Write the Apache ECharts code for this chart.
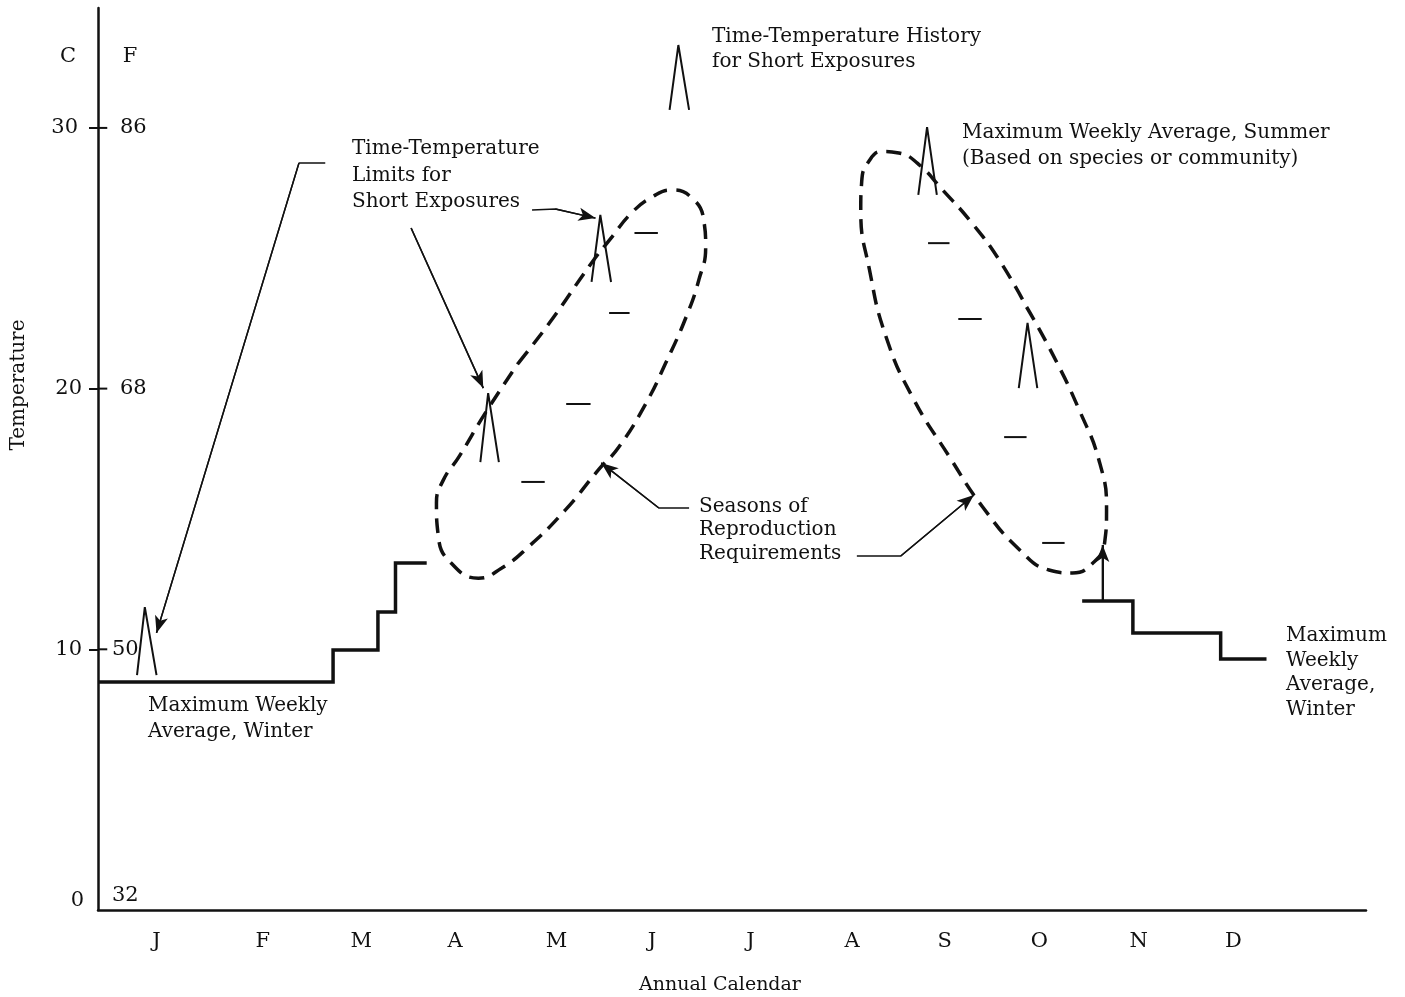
<!DOCTYPE html>
<html><head><meta charset="utf-8">
<script src="https://cdn.jsdelivr.net/npm/echarts@6/dist/echarts.min.js"></script>
<style>html,body{margin:0;padding:0;background:#fff}#c{width:1405px;height:997px}</style>
</head><body><div id="c"></div>
<script>
// ---- axis labels ----
const monthLabels = ['J','F','M','A','M','J','J','A','S','O','N','D'];
const monthPositions = [0.60,1.69,2.70,3.66,4.70,5.68,6.69,7.73,8.68,9.65,10.67,11.64];
const celsiusLabels = ['0','10','20','30'];
const celsiusLabelPositions = [0.38,10,20,30];
const fahrenheitLabels = ['32','50','68','86'];
const fahrenheitLabelPositions = [0.54,10,20,30];
const tickValues = [10,20,30];

// ---- winter maximum weekly average steps (month, degC) ----
const winterStepsEarly = [[0,8.75],[2.41,9.97],[2.87,11.43],[3.05,13.31],[3.37,13.31]];
const winterStepsLate = [[10.09,11.85],[10.61,10.63],[11.51,9.63],[11.98,9.63]];

// ---- seasons of reproduction (dashed loops) ----
const springLoop = [[4.31,20.98],[4.65,22.63],[5.06,24.82],[5.27,25.82],[5.47,26.74],[5.68,27.35],[5.88,27.62],[6.09,27.31],[6.21,26.47],[6.23,25.43],[6.16,24.17],[6.03,22.75],[5.82,20.98],[5.62,19.45],[5.34,17.76],[5.13,16.88],[4.79,15.34],[4.41,13.92],[4.14,13.12],[3.90,12.73],[3.62,13.31],[3.49,14.31],[3.47,15.61],[3.54,16.49],[3.70,17.38],[3.97,19.06],[4.31,20.98]];
const fallLoop = [[9.52,23.13],[9.78,21.37],[10.06,19.18],[10.27,17.15],[10.34,15.34],[10.32,14.08],[10.20,13.31],[9.99,12.93],[9.75,13.04],[9.45,13.81],[9.07,15.46],[8.73,17.38],[8.35,19.68],[8.08,21.98],[7.91,24.55],[7.82,26.85],[7.83,27.95],[7.90,28.70],[8.04,29.10],[8.21,29.04],[8.40,28.65],[8.66,27.62],[8.96,26.35],[9.24,24.93],[9.52,23.13]];

// ---- short exposure peaks: [left foot, apex, right foot] ----
const shortPeaks = [
  [[0.40,9.01],[0.48,11.62],[0.60,9.01]],
  [[3.92,17.18],[4.00,19.83],[4.11,17.18]],
  [[5.06,24.09],[5.15,26.66],[5.26,24.09]],
  [[5.86,30.69],[5.95,33.18],[6.06,30.69]],
  [[8.41,27.43],[8.50,30.03],[8.60,27.43]],
  [[9.44,20.02],[9.53,22.52],[9.63,20.02]]
];

// ---- weekly averages (short dashes): [x start, x end, degC] ----
const weeklyAverages = [
  [4.34,4.58,16.42],[4.80,5.05,19.41],[5.24,5.45,22.90],[5.50,5.74,25.97],
  [8.51,8.73,25.58],[8.82,9.06,22.67],[9.29,9.52,18.14],[9.68,9.91,14.08]
];

// ---- leader lines (last segment carries arrow) ----
const leaderLines = [
  [[2.33,28.65],[2.06,28.65],[0.60,10.63]],
  [[4.45,26.85],[4.69,26.89],[5.10,26.54]],
  [[3.21,26.16],[3.95,20.02]],
  [[6.06,15.42],[5.75,15.42],[5.16,17.15]],
  [[7.78,13.58],[8.23,13.58],[8.98,15.92]]
];
const upArrow = [[10.30,11.89],[10.30,14.00]];

const black = '#111';
const serif = 'DejaVu Serif';
const series = [];
function addLine(data, extra) {
  series.push(Object.assign({
    type: 'line', data: data, symbol: 'none', silent: true, animation: false,
    lineStyle: { color: black, width: 2 }, z: 3
  }, extra || {}));
}
addLine(winterStepsEarly, { step: 'end', lineStyle: { color: black, width: 3.5, join: 'miter' } });
addLine(winterStepsLate, { step: 'end', lineStyle: { color: black, width: 3.5, join: 'miter' } });
addLine(springLoop, { smooth: 0.5, lineStyle: { color: black, width: 3.5, type: [15, 9] } });
addLine(fallLoop, { smooth: 0.5, lineStyle: { color: black, width: 3.5, type: [15, 9] } });
shortPeaks.forEach(p => addLine(p, { lineStyle: { color: black, width: 2 } }));
weeklyAverages.forEach(w => addLine([[w[0], w[2]], [w[1], w[2]]], { lineStyle: { color: black, width: 2 } }));
function addArrow(pts, width) {
  const a = pts[pts.length - 2], b = pts[pts.length - 1];
  addLine(pts, {
    lineStyle: { color: black, width: width },
    markLine: {
      silent: true, animation: false,
      symbol: ['none', 'arrow'], symbolSize: [10, 17],
      label: { show: false },
      lineStyle: { color: black, width: width, type: 'solid' },
      emphasis: { disabled: true },
      data: [[{ coord: a }, { coord: b }]]
    }
  });
}
leaderLines.forEach(l => addArrow(l, 1.5));
addArrow(upArrow, 2);

// inner (Fahrenheit-side) half of the crossing axis ticks, drawn through the axis scales
const innerTickLength = 0.095; // in months, about 9 px
tickValues.forEach(v => addLine([[0, v], [innerTickLength, v]], { clip: false, z: 10, lineStyle: { color: black, width: 2 } }));

function findIdx(arr, v) { let bi = 0, bd = 1e9; arr.forEach((p, i) => { const d = Math.abs(p - v); if (d < bd) { bd = d; bi = i; } }); return bi; }

const cRich = {
  c0: { fontFamily: serif, fontSize: 21, color: black, padding: [0, 0, 0, 0] },
  c1: { fontFamily: serif, fontSize: 21, color: black, padding: [0, 2, 0, 0] },
  c2: { fontFamily: serif, fontSize: 21, color: black, padding: [0, 2, 0, 0] },
  c3: { fontFamily: serif, fontSize: 21, color: black, padding: [0, 6, 0, 0] }
};
const fRich = {
  f0: { fontFamily: serif, fontSize: 21, color: black, padding: [0, 0, 0, 0] },
  f1: { fontFamily: serif, fontSize: 21, color: black, padding: [0, 0, 0, 0] },
  f2: { fontFamily: serif, fontSize: 21, color: black, padding: [0, 0, 0, 8] },
  f3: { fontFamily: serif, fontSize: 21, color: black, padding: [0, 0, 0, 8] }
};

function txt(x, y, text, lh, size) {
  return { type: 'text', x: x, y: y, silent: true, style: { text: text, fontFamily: serif, fontSize: size || 20, lineHeight: lh || 26, fill: black, align: 'left', verticalAlign: 'top' } };
}

const graphics = [
  { type: 'text', x: 19, y: 385, rotation: Math.PI / 2, silent: true, style: { text: 'Temperature', fontFamily: serif, fontSize: 20, fill: black, align: 'center', verticalAlign: 'middle' } },
  { type: 'text', x: 720, y: 985, silent: true, style: { text: 'Annual Calendar', fontFamily: serif, fontSize: 19, fill: black, align: 'center', verticalAlign: 'middle' } },
  { type: 'text', x: 68, y: 57, silent: true, style: { text: 'C', fontFamily: serif, fontSize: 21, fill: black, align: 'center', verticalAlign: 'middle' } },
  { type: 'text', x: 130, y: 57, silent: true, style: { text: 'F', fontFamily: serif, fontSize: 21, fill: black, align: 'center', verticalAlign: 'middle' } },
  txt(712, 24.5, 'Time-Temperature History\nfor Short Exposures', 25),
  txt(352, 136, 'Time-Temperature\nLimits for\nShort Exposures', 26.5),
  txt(962, 120, 'Maximum Weekly Average, Summer\n(Based on species or community)', 26),
  txt(699, 495, 'Seasons of\nReproduction\nRequirements', 23.5),
  txt(148, 693, 'Maximum Weekly\nAverage, Winter', 26),
  txt(1286, 624, 'Maximum\nWeekly\nAverage,\nWinter', 24.5)
];

const option = {
  backgroundColor: '#fff',
  animation: false,
  grid: { left: 98, right: 39, top: 8, bottom: 87, containLabel: false },
  xAxis: {
    type: 'value', min: 0, max: 13,
    axisLine: { show: true, lineStyle: { color: black, width: 2.5 } },
    axisTick: { show: false },
    splitLine: { show: false },
    axisLabel: {
      customValues: monthPositions, margin: 21,
      fontFamily: serif, fontSize: 21, color: black,
      formatter: v => monthLabels[findIdx(monthPositions, v)]
    }
  },
  yAxis: [{
    type: 'value', min: 0, max: 34.6, position: 'left',
    axisLine: { show: true, lineStyle: { color: black, width: 2.5 } },
    axisTick: { show: true, customValues: tickValues, length: 9, lineStyle: { color: black, width: 2 } },
    splitLine: { show: false },
    axisLabel: {
      customValues: celsiusLabelPositions, margin: 14,
      fontFamily: serif, fontSize: 21, color: black, rich: cRich,
      formatter: v => { const i = findIdx(celsiusLabelPositions, v); return '{c' + i + '|' + celsiusLabels[i] + '}'; }
    }
  }, {
    type: 'value', min: 0, max: 34.6, position: 'left', offset: 0,
    axisLine: { show: false },
    axisTick: { show: false },
    splitLine: { show: false },
    axisLabel: {
      inside: true, customValues: fahrenheitLabelPositions, margin: 14,
      fontFamily: serif, fontSize: 21, color: black, rich: fRich,
      formatter: v => { const i = findIdx(fahrenheitLabelPositions, v); return '{f' + i + '|' + fahrenheitLabels[i] + '}'; }
    }
  }],
  series: series,
  graphic: graphics
};
const chart = echarts.init(document.getElementById('c'));
chart.setOption(option);
</script>
</body></html>
